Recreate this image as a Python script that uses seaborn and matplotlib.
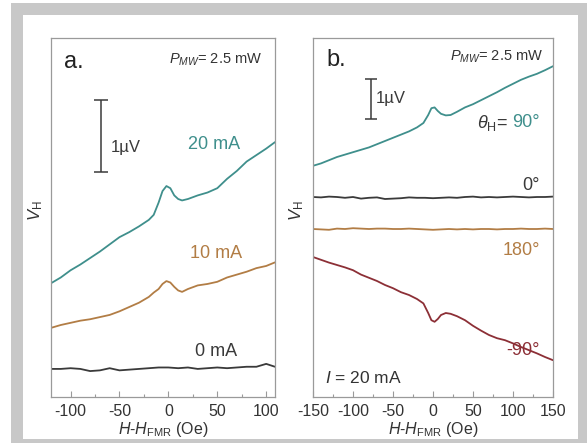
import matplotlib
matplotlib.use("Agg")
import matplotlib.pyplot as plt
import seaborn as sns
from matplotlib.patches import Rectangle
from matplotlib.ticker import MultipleLocator

# ---- panel a: current dependence (theta_H = 90 deg) ----
h_a = [-120, -110, -100, -90, -80, -70, -60, -50, -40, -30, -20, -15, -10, -6, -2,
       2, 6, 10, 14, 20, 30, 40, 50, 60, 70, 80, 90, 100, 109]
v_20ma = [1.58, 1.66, 1.76, 1.84, 1.93, 2.02, 2.12, 2.22, 2.29, 2.37, 2.46, 2.53, 2.70, 2.86, 2.93,
          2.90, 2.80, 2.75, 2.73, 2.75, 2.80, 2.84, 2.90, 3.03, 3.14, 3.27, 3.36, 3.45, 3.54]
v_10ma = [0.96, 1.00, 1.03, 1.06, 1.08, 1.11, 1.14, 1.19, 1.25, 1.31, 1.39, 1.45, 1.50, 1.57, 1.61,
          1.59, 1.53, 1.48, 1.46, 1.50, 1.55, 1.57, 1.60, 1.66, 1.70, 1.74, 1.79, 1.82, 1.87]
h_a0 = [-120, -110, -100, -90, -80, -70, -60, -50, -40, -30, -20, -10, 0,
        10, 20, 30, 40, 50, 60, 70, 80, 90, 100, 109]
v_0ma = [0.39, 0.39, 0.40, 0.39, 0.36, 0.37, 0.40, 0.37, 0.38, 0.39, 0.40, 0.41, 0.41,
         0.40, 0.41, 0.39, 0.40, 0.41, 0.40, 0.41, 0.42, 0.42, 0.46, 0.42]

# ---- panel b: angle dependence (I = 20 mA) ----
h_b = [-150, -140, -130, -120, -110, -100, -90, -80, -70, -60, -50, -40, -30, -20, -12, -6, -2,
       2, 6, 10, 16, 22, 30, 40, 50, 60, 70, 80, 90, 100, 110, 120, 130, 140, 150]
v_p90 = [5.78, 5.84, 5.92, 6.00, 6.06, 6.12, 6.18, 6.24, 6.32, 6.40, 6.48, 6.56, 6.64, 6.74, 6.85, 7.05, 7.22,
         7.24, 7.15, 7.08, 7.04, 7.05, 7.13, 7.24, 7.32, 7.42, 7.52, 7.62, 7.73, 7.83, 7.93, 8.01, 8.08, 8.17, 8.27]
v_m90 = [3.50, 3.43, 3.36, 3.30, 3.24, 3.17, 3.06, 2.98, 2.90, 2.80, 2.72, 2.62, 2.55, 2.45, 2.34, 2.10, 1.92,
         1.88, 1.95, 2.05, 2.10, 2.08, 2.02, 1.92, 1.78, 1.66, 1.55, 1.47, 1.42, 1.34, 1.25, 1.17, 1.09, 1.00, 0.92]
h_b0 = [-150, -140, -130, -120, -110, -100, -90, -80, -70, -60, -50, -40, -30, -20, -10, 0,
        10, 20, 30, 40, 50, 60, 70, 80, 90, 100, 110, 120, 130, 140, 150]
v_0deg = [5.00, 4.99, 5.01, 5.00, 4.98, 5.00, 4.96, 4.98, 4.99, 4.95, 4.96, 4.97, 4.99, 4.98, 4.98, 4.97,
          4.98, 4.99, 4.98, 5.00, 5.01, 4.99, 5.00, 4.99, 5.00, 5.01, 5.00, 4.99, 5.00, 5.00, 5.01]
v_180deg = [4.20, 4.19, 4.18, 4.21, 4.20, 4.22, 4.21, 4.20, 4.21, 4.21, 4.20, 4.20, 4.21, 4.20, 4.19, 4.18,
            4.19, 4.20, 4.19, 4.20, 4.19, 4.20, 4.20, 4.19, 4.20, 4.20, 4.21, 4.20, 4.20, 4.21, 4.20]

TEAL = "#3f8f8c"
BROWN = "#b27d45"
DARK = "#3a3a3a"
RED = "#8c2f36"
SPINE = "#9a9a9a"
TXT = "#333333"

sns.set_theme(style="white")
plt.rcParams["font.family"] = ["Liberation Sans", "DejaVu Sans"]
plt.rcParams["mathtext.fontset"] = "custom"
plt.rcParams["mathtext.rm"] = "Liberation Sans"
plt.rcParams["mathtext.it"] = "Liberation Sans:italic"
plt.rcParams["axes.unicode_minus"] = False

W, H = 587, 443
fig = plt.figure(figsize=(W / 100, H / 100), dpi=100, facecolor="white")
fig.patches.append(Rectangle((11 / W, 0), (W - 11) / W, (H - 3) / H, transform=fig.transFigure,
                             facecolor="#c8c8c8", edgecolor="none", zorder=-10))
fig.patches.append(Rectangle((23 / W, 4 / H), (578 - 23) / W, (439 - 15) / H, transform=fig.transFigure,
                             facecolor="white", edgecolor="none", zorder=-9))

ax_a = fig.add_axes([51 / W, (H - 397) / H, (275 - 51) / W, (397 - 38) / H])
ax_b = fig.add_axes([313 / W, (H - 397) / H, (553 - 313) / W, (397 - 38) / H])

kw = dict(estimator=None, sort=False, lw=1.3, legend=False)
sns.lineplot(x=h_a, y=v_20ma, ax=ax_a, color=TEAL, **kw)
sns.lineplot(x=h_a, y=v_10ma, ax=ax_a, color=BROWN, **kw)
sns.lineplot(x=h_a0, y=v_0ma, ax=ax_a, color=DARK, **kw)

sns.lineplot(x=h_b, y=v_p90, ax=ax_b, color=TEAL, **kw)
sns.lineplot(x=h_b0, y=v_0deg, ax=ax_b, color=DARK, **kw)
sns.lineplot(x=h_b0, y=v_180deg, ax=ax_b, color=BROWN, **kw)
sns.lineplot(x=h_b, y=v_m90, ax=ax_b, color=RED, **kw)

ax_a.set_xlim(-120, 109)
ax_a.set_ylim(0, 359 / 72)
ax_b.set_xlim(-150, 150)
ax_b.set_ylim(0, 359 / 40)

for ax in (ax_a, ax_b):
    ax.set_facecolor("none")
    for s in ax.spines.values():
        s.set_color(SPINE)
        s.set_linewidth(0.9)
    ax.xaxis.set_major_locator(MultipleLocator(50))
    ax.xaxis.set_minor_locator(MultipleLocator(25))
    ax.tick_params(axis="x", which="major", direction="in", length=4, width=0.8, color=SPINE,
                   labelsize=11.5, labelcolor=TXT, pad=5, bottom=True)
    ax.tick_params(axis="x", which="minor", direction="in", length=2, width=0.8, color=SPINE, bottom=True)
    ax.set_yticks([])
    ax.set_xlabel(r"$H$-$H_{\rm FMR}$ (Oe)", fontsize=11.5, color=TXT, labelpad=1)
    ax.set_ylabel("")
    ax.text(-0.07, 0.52, r"$V_{\rm H}$", transform=ax.transAxes, rotation=90,
            ha="center", va="center", fontsize=12, color=TXT)

# panel a annotations
ax_a.text(-96.5, 4.65, "a.", fontsize=17, color="#222222", ha="center", va="center")
ax_a.text(95.5, 4.68, r"$P_{MW}$= 2.5 mW", fontsize=10.5, color=TXT, ha="right", va="center")
ax_a.text(47, 3.5, "20 mA", fontsize=13, color=TEAL, ha="center", va="center")
ax_a.text(49, 2.0, "10 mA", fontsize=13, color=BROWN, ha="center", va="center")
ax_a.text(49, 0.625, "0 mA", fontsize=13, color=DARK, ha="center", va="center")
ax_a.errorbar([-69], [3.625], yerr=[0.5], color=DARK, capsize=5, lw=1.1, capthick=1.1)
ax_a.text(-58.5, 3.47, "1µV", fontsize=12, color=DARK, ha="left", va="center")

# panel b annotations
ax_b.text(-121, 8.43, "b.", fontsize=17, color="#222222", ha="center", va="center")
ax_b.text(137.5, 8.5, r"$P_{MW}$= 2.5 mW", fontsize=10.5, color=TXT, ha="right", va="center")
ax_b.errorbar([-77.5], [7.45], yerr=[0.5], color=DARK, capsize=4, lw=1.1, capthick=1.1)
ax_b.text(-72, 7.45, "1µV", fontsize=12, color=DARK, ha="left", va="center")
ax_b.text(94, 6.85, r"$\theta_{\rm H}$=", fontsize=13, color=DARK, ha="right", va="center")
ax_b.text(134, 6.85, "90°", fontsize=13, color=TEAL, ha="right", va="center")
ax_b.text(134, 5.3, "0°", fontsize=13, color=DARK, ha="right", va="center")
ax_b.text(134, 3.67, "180°", fontsize=13, color=BROWN, ha="right", va="center")
ax_b.text(134, 1.17, "-90°", fontsize=13, color=RED, ha="right", va="center")
ax_b.text(-135, 0.47, r"$I$ = 20 mA", fontsize=12.5, color=TXT, ha="left", va="center")

fig.savefig("out.png", dpi=100, facecolor=fig.get_facecolor())
